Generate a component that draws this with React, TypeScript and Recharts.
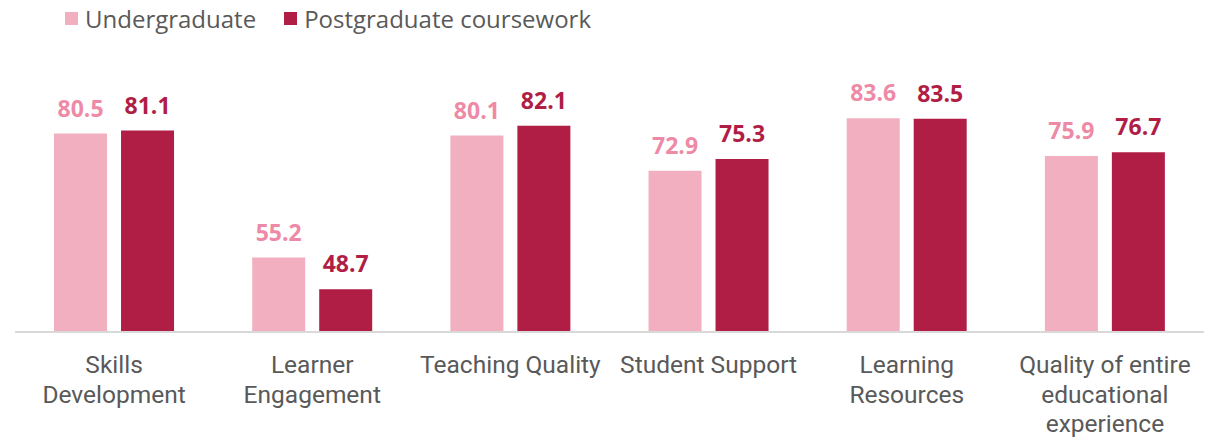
import { BarChart, Bar, XAxis, YAxis, LabelList } from 'recharts'

const categories = [
  'Skills\nDevelopment',
  'Learner\nEngagement',
  'Teaching Quality',
  'Student Support',
  'Learning\nResources',
  'Quality of entire\neducational\nexperience',
]
const undergraduate = [80.5, 55.2, 80.1, 72.9, 83.6, 75.9]
const postgraduate = [81.1, 48.7, 82.1, 75.3, 83.5, 76.7]

const UG_BAR = '#f2afc0'
const UG_LABEL = '#ee8aa6'
const PG = '#b01e46'
const TEXT = '#595959'
const FONT = '"Open Sans", sans-serif'
const TICK_FONT = 'Roboto, sans-serif'

const data = categories.map((c, i) => ({
  name: c,
  ug: undergraduate[i],
  pg: postgraduate[i],
}))

function Tick({ x, y, payload }: any) {
  const lines = String(payload.value).split('\n')
  return (
    <text
      x={x}
      y={y}
      textAnchor="middle"
      fill={TEXT}
      fontSize={24.5}
      fontFamily={TICK_FONT}
    >
      {lines.map((l, i) => (
        <tspan key={i} x={x} dy={i === 0 ? 41 : 29.5}>
          {l}
        </tspan>
      ))}
    </text>
  )
}

function LegendItem({ color, label }: { color: string; label: string }) {
  return (
    <div style={{ display: 'flex', alignItems: 'center', marginRight: 28 }}>
      <div style={{ width: 13, height: 13, background: color, marginRight: 7 }} />
      <span style={{ fontSize: 24, color: TEXT, fontFamily: FONT }}>{label}</span>
    </div>
  )
}

export default function App() {
  return (
    <div style={{ position: 'absolute', left: 0, top: 0, width: 1214, height: 438, background: '#fff' }}>
      <div style={{ position: 'absolute', left: 65, top: 2, display: 'flex' }}>
        <LegendItem color={UG_BAR} label="Undergraduate" />
        <LegendItem color={PG} label="Postgraduate coursework" />
      </div>
      <BarChart
        width={1214}
        height={438}
        data={data}
        margin={{ top: 87, right: 10, bottom: 0, left: 15 }}
        barCategoryGap="19.7%"
        barGap={14}
      >
        <XAxis
          dataKey="name"
          height={106}
          tickLine={false}
          tickSize={0}
          tickMargin={0}
          interval={0}
          axisLine={{ stroke: '#d9d9d9', strokeWidth: 2 }}
          tick={<Tick />}
        />
        <YAxis hide domain={[40, 90]} width={0} />
        <Bar dataKey="ug" fill={UG_BAR} isAnimationActive={false}>
          <LabelList
            dataKey="ug"
            position="top"
            offset={17}
            fill={UG_LABEL}
            fontSize={23}
            fontWeight={700}
            fontFamily={FONT}
          />
        </Bar>
        <Bar dataKey="pg" fill={PG} isAnimationActive={false}>
          <LabelList
            dataKey="pg"
            position="top"
            offset={17}
            fill={PG}
            fontSize={23}
            fontWeight={700}
            fontFamily={FONT}
          />
        </Bar>
      </BarChart>
    </div>
  )
}
